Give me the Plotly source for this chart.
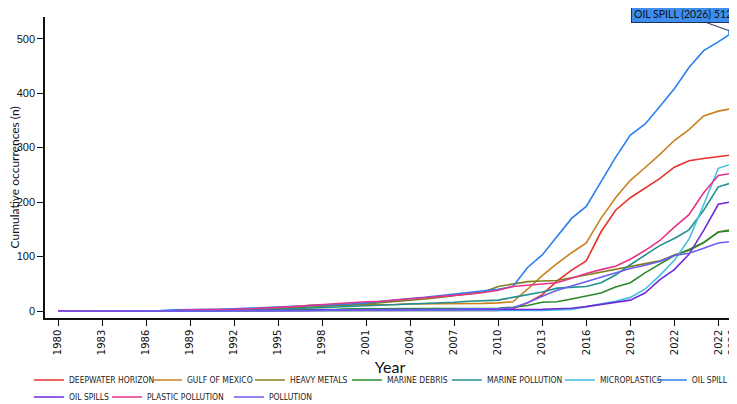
import plotly.graph_objects as go

### data ---------------------------------------------------------------------------------------------------------------

years = list(range(1980, 2027))

deepwater_horizon = [0] * 30 + [1, 4, 15, 30, 55, 75, 92, 145, 185, 208, 226, 243, 264, 276, 280, 284, 287]
gulf_of_mexico = [0, 0, 0, 0, 0, 0, 0, 0, 1, 1, 1, 1, 1, 1, 2, 2, 4, 10, 11, 11,
                  12, 12, 12, 12, 13, 13, 14, 14, 14, 14, 15, 17, 40, 65, 87, 107, 125, 170, 208, 240,
                  263, 287, 313, 333, 358, 367, 372]
heavy_metals = [0, 0, 0, 0, 0, 0, 1, 1, 1, 2, 2, 3, 3, 4, 4, 5, 6, 7, 9, 10,
                11, 13, 15, 17, 19, 22, 25, 28, 31, 35, 45, 50, 54, 55, 56, 61, 66, 71, 76, 82,
                86, 92, 103, 111, 125, 145, 150]
marine_debris = [0, 0, 0, 0, 0, 0, 0, 0, 0, 1, 1, 1, 1, 1, 2, 2, 2, 3, 3, 3,
                 4, 4, 4, 5, 5, 5, 5, 5, 5, 5, 5, 7, 10, 16, 17, 22, 27, 33, 44, 52,
                 70, 86, 102, 113, 126, 145, 148]
marine_pollution = [0, 0, 0, 0, 0, 0, 0, 0, 1, 1, 1, 1, 2, 2, 2, 3, 4, 5, 6, 7,
                    8, 9, 10, 11, 12, 14, 15, 16, 18, 19, 20, 25, 30, 35, 42, 44, 45, 52, 66, 85,
                    103, 120, 133, 149, 185, 228, 236]
microplastics = [0] * 32 + [1, 1, 2, 3, 8, 13, 18, 25, 40, 65, 93, 132, 195, 262, 271]
oil_spill = [0, 0, 0, 0, 0, 0, 1, 1, 2, 2, 3, 3, 4, 5, 6, 7, 8, 9, 10, 12,
             13, 15, 18, 20, 23, 25, 28, 30, 33, 36, 40, 45, 80, 103, 137, 170, 192, 238, 282, 323,
             343, 375, 408, 447, 478, 494, 512]
oil_spills = [0, 0, 0, 0, 0, 0, 0, 0, 0, 0, 1, 1, 1, 1, 1, 1, 1, 1, 2, 2,
              2, 2, 2, 2, 2, 2, 2, 2, 2, 2, 2, 2, 3, 3, 4, 5, 8, 12, 17, 20,
              33, 57, 76, 104, 148, 196, 201]
plastic_pollution = [0, 0, 0, 0, 0, 0, 1, 1, 1, 2, 2, 3, 3, 4, 5, 6, 8, 10, 12, 14,
                     16, 17, 18, 20, 22, 24, 26, 28, 31, 34, 38, 45, 47, 49, 52, 60, 69, 76, 82, 95,
                     111, 129, 154, 177, 217, 249, 253]
pollution = [0, 0, 0, 0, 0, 0, 0, 0, 0, 0, 0, 0, 1, 1, 1, 1, 1, 1, 1, 2,
             2, 2, 2, 3, 3, 3, 3, 3, 4, 4, 4, 6, 15, 27, 38, 46, 54, 62, 70, 78,
             84, 91, 102, 106, 115, 125, 128]

series_names = ["DEEPWATER HORIZON", "GULF OF MEXICO", "HEAVY METALS", "MARINE DEBRIS", "MARINE POLLUTION",
                "MICROPLASTICS", "OIL SPILL", "OIL SPILLS", "PLASTIC POLLUTION", "POLLUTION"]
series_values = [deepwater_horizon, gulf_of_mexico, heavy_metals, marine_debris, marine_pollution,
                 microplastics, oil_spill, oil_spills, plastic_pollution, pollution]
colors = ["#e8322e", "#c9801f", "#7f7f1c", "#2a8a2a", "#22908f",
          "#45bfe0", "#2b80ee", "#6a2bdc", "#e6338a", "#6c5cf0"]

tick_years = [1980, 1983, 1986, 1989, 1992, 1995, 1998, 2001, 2004, 2007, 2010, 2013, 2016, 2019, 2022, 2025, 2026]
tick_labels = ["1980", "1983", "1986", "1989", "1992", "1995", "1998", "2001", "2004", "2007",
               "2010", "2013", "2016", "2019", "2022", "2022", "2026"]

# legend entries in two rows, each entry is its own legend box (x in paper units, row index)
legend_x = [-0.0233, 0.1477, 0.297, 0.4376, 0.5825, 0.7463, 0.8795, -0.0233, 0.0898, 0.2666]
legend_row = [0, 0, 0, 0, 0, 0, 0, 1, 1, 1]
row_y = [-0.206, -0.2625]

### figure -------------------------------------------------------------------------------------------------------------

fig = go.Figure()
legend_layout = {}
for i, (name, vals, col) in enumerate(zip(series_names, series_values, colors)):
    key = "legend" if i == 0 else f"legend{i + 1}"
    fig.add_trace(go.Scatter(x=years, y=vals, name=name, mode="lines", legend=key,
                             line=dict(color=col, width=1.6)))
    legend_layout[key] = dict(orientation="h", x=legend_x[i], y=row_y[legend_row[i]],
                              xanchor="left", yanchor="middle", bgcolor="rgba(0,0,0,0)",
                              font=dict(family="Liberation Sans Narrow, DejaVu Sans Condensed",
                                        size=8.5, color="#222"))

# highlighted last point of oil spill
fig.add_trace(go.Scatter(x=[years[-1]], y=[oil_spill[-1]], mode="markers", showlegend=False,
                         cliponaxis=False, marker=dict(color="#3d8ef0", size=10)))

fig.add_annotation(x=years[-1], y=oil_spill[-1],
                   text=f"OIL SPILL ({years[-1]}) {oil_spill[-1]}",
                   showarrow=True, arrowhead=0, arrowwidth=1, arrowcolor="#1c2f55",
                   ax=-50, ay=-18, bgcolor="#3d8ef0", bordercolor="#1c2f55", borderwidth=1,
                   borderpad=2, font=dict(family="Lato", size=10.5, color="#111"))

# y axis title as a rotated annotation so it sits close to the page edge
fig.add_annotation(text="Cumulative occurrences (n)", xref="paper", yref="paper",
                   x=-0.0449, y=0.467, xanchor="center", yanchor="middle", textangle=-90,
                   showarrow=False, font=dict(family="Lato", size=12, color="#111"))

# page body has an 8px margin, so the figure is sized and offset for that
fig.update_layout(
    width=729, height=396,
    margin=dict(l=37, r=2, t=9, b=86, autoexpand=False),
    paper_bgcolor="white", plot_bgcolor="white",
    font=dict(family="Lato", color="#111"),
    showlegend=True,
    **legend_layout,
)

fig.update_xaxes(range=[1979.114, 2026.136], tickmode="array", tickvals=tick_years, ticktext=tick_labels,
                 tickangle=-90, ticks="outside", ticklen=6, tickcolor="#111", ticklabeloverflow="allow",
                 showline=True, linecolor="#111", linewidth=1.5, showgrid=False, zeroline=False,
                 tickfont=dict(family="DejaVu Sans", size=10, color="#111"),
                 title=dict(text="Year", font=dict(family="Lato", size=16), standoff=8))
fig.update_yaxes(range=[-12.85, 539.8], tickvals=[0, 100, 200, 300, 400, 500],
                 ticks="outside", ticklen=6, tickcolor="#111",
                 showline=True, linecolor="#111", linewidth=1.5, showgrid=False, zeroline=False,
                 tickfont=dict(family="Liberation Sans", size=11, color="#111"))

fig.write_html("out.html")
